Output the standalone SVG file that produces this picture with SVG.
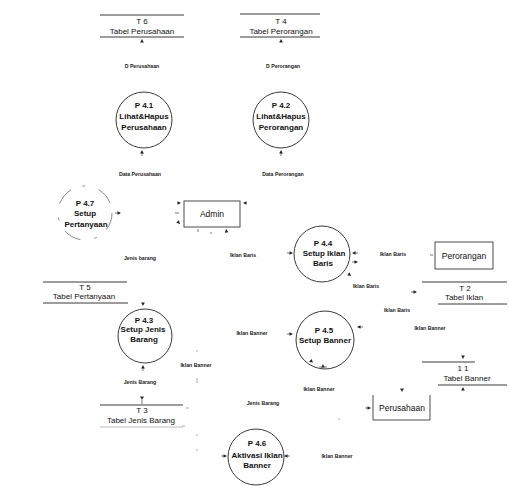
<svg xmlns="http://www.w3.org/2000/svg" xmlns:xlink="http://www.w3.org/1999/xlink" width="509" height="486" viewBox="0 0 509 486">
  <style>
    .bg { fill: #ffffff; }
    .proc { fill: none; stroke: #3a3a3a; stroke-width: 1; }
    .proc-faint { fill: none; stroke: #8a8a8a; stroke-width: 1; stroke-dasharray: 18 12 3 14; }
    .ent { fill: none; stroke: #4a4a4a; stroke-width: 1; }
    .store { stroke: #3a3a3a; stroke-width: 1; }
    .ptxt { font-family: "Liberation Sans", Arial, sans-serif; font-size: 8px; font-weight: bold; fill: #111; text-anchor: middle; }
    .stxt { font-family: "Liberation Sans", Arial, sans-serif; font-size: 8px; fill: #111; text-anchor: middle; }
    .etxt { font-family: "Liberation Sans", Arial, sans-serif; font-size: 8.5px; fill: #111; text-anchor: middle; }
    .lbl { font-family: "Liberation Sans", Arial, sans-serif; font-size: 5.2px; font-weight: bold; fill: #222; text-anchor: middle; }
    .head { fill: #222; }
    .tail { stroke: #555; stroke-width: 0.8; }
    .dot { stroke: #999; stroke-width: 0.8; }
  </style>
  <defs>
    <!-- small arrowhead, tip at origin, pointing along +x -->
    <g id="ah">
      <line class="tail" x1="-6" y1="0" x2="-3" y2="0"/>
      <path class="head" d="M0,0 L-3.5,-1.8 L-3.5,1.8 Z"/>
    </g>
    <g id="tip">
      <path class="head" d="M0,0 L-3.5,-1.8 L-3.5,1.8 Z"/>
    </g>
  </defs>

  <rect class="bg" x="0" y="0" width="509" height="486"/>

  <!-- data stores -->
  <g id="T6">
    <line class="store" x1="100" y1="15" x2="184" y2="15"/>
    <line class="store" x1="100" y1="37" x2="184" y2="37"/>
    <text class="stxt" x="142" y="24">T 6</text>
    <text class="stxt" x="142" y="33.5">Tabel Perusahaan</text>
  </g>
  <g id="T4">
    <line class="store" x1="240" y1="14" x2="320" y2="14"/>
    <line class="store" x1="240" y1="37" x2="320" y2="37"/>
    <text class="stxt" x="281" y="24">T 4</text>
    <text class="stxt" x="281" y="33.5">Tabel Perorangan</text>
  </g>
  <g id="T5">
    <line class="store" x1="43" y1="282" x2="127" y2="282"/>
    <line class="store" x1="43" y1="303" x2="128" y2="303"/>
    <text class="stxt" x="85" y="290">T 5</text>
    <text class="stxt" x="84" y="298.5">Tabel Pertanyaan</text>
  </g>
  <g id="T3">
    <line class="store" x1="100" y1="405" x2="183" y2="405"/>
    <line class="store" x1="100" y1="427" x2="183" y2="427" stroke-opacity="0.35"/>
    <text class="stxt" x="142" y="413">T 3</text>
    <text class="stxt" x="141" y="423">Tabel Jenis Barang</text>
  </g>
  <g id="T2">
    <line class="store" x1="422" y1="282" x2="507" y2="282"/>
    <line class="store" x1="438" y1="304" x2="507" y2="304"/>
    <text class="stxt" x="465" y="291">T 2</text>
    <text class="stxt" x="464" y="300">Tabel Iklan</text>
  </g>
  <g id="T1">
    <line class="store" x1="422" y1="362" x2="475" y2="362"/>
    <line class="store" x1="438" y1="385" x2="507" y2="385"/>
    <text class="stxt" x="463" y="371">1 1</text>
    <text class="stxt" x="467" y="380.5">Tabel Banner</text>
  </g>

  <!-- processes -->
  <g id="P4.1">
    <circle class="proc" cx="144" cy="120" r="28"/>
    <text class="ptxt" x="144" y="108">P 4.1</text>
    <text class="ptxt" x="144" y="119">Lihat&amp;Hapus</text>
    <text class="ptxt" x="144" y="130">Perusahaan</text>
  </g>
  <g id="P4.2">
    <circle class="proc" cx="281" cy="120" r="28"/>
    <text class="ptxt" x="281" y="108">P 4.2</text>
    <text class="ptxt" x="281" y="119">Lihat&amp;Hapus</text>
    <text class="ptxt" x="281" y="130">Perorangan</text>
  </g>
  <g id="P4.7">
    <circle class="proc-faint" cx="85" cy="213" r="27"/>
    <text class="ptxt" x="85" y="206">P 4.7</text>
    <text class="ptxt" x="85" y="216">Setup</text>
    <text class="ptxt" x="86" y="227">Pertanyaan</text>
  </g>
  <g id="P4.4">
    <circle class="proc" cx="322" cy="254" r="28"/>
    <text class="ptxt" x="323" y="246">P 4.4</text>
    <text class="ptxt" x="324" y="256">Setup Iklan</text>
    <text class="ptxt" x="323" y="265.5">Baris</text>
  </g>
  <g id="P4.3">
    <circle class="proc" cx="145" cy="336" r="27"/>
    <text class="ptxt" x="144" y="323">P 4.3</text>
    <text class="ptxt" x="143" y="332">Setup Jenis</text>
    <text class="ptxt" x="144" y="341.5">Barang</text>
  </g>
  <g id="P4.5">
    <circle class="proc" cx="325" cy="340" r="29"/>
    <text class="ptxt" x="324" y="333">P 4.5</text>
    <text class="ptxt" x="325" y="343">Setup Banner</text>
  </g>
  <g id="P4.6">
    <circle class="proc" cx="256" cy="457" r="28"/>
    <text class="ptxt" x="257" y="446">P 4.6</text>
    <text class="ptxt" x="257" y="457.5">Aktivasi Iklan</text>
    <text class="ptxt" x="257" y="468">Banner</text>
  </g>

  <!-- external entities -->
  <g id="Admin">
    <rect class="ent" x="184" y="201" width="56" height="26"/>
    <text class="etxt" x="212" y="217">Admin</text>
  </g>
  <g id="Perorangan">
    <rect class="ent" x="435" y="242" width="58" height="27"/>
    <text class="etxt" x="464" y="259">Perorangan</text>
  </g>
  <g id="Perusahaan">
    <path class="ent" d="M373,395 L373,420 L430,420 L430,395"/>
    <text class="etxt" x="402" y="411">Perusahaan</text>
  </g>

  <!-- data flows: arrowheads and labels -->
  <g id="connectors">
    <!-- stores T6 / T4 -->
    <use xlink:href="#tip" transform="translate(142,39) rotate(-90)"/>
    <use xlink:href="#tip" transform="translate(281,39) rotate(-90)"/>
    <text class="lbl" x="142" y="68">D Perusahaan</text>
    <text class="lbl" x="283" y="68">D Perorangan</text>

    <!-- P4.1 / P4.2 downward flows -->
    <use xlink:href="#ah" transform="translate(142,150) rotate(-90)"/>
    <use xlink:href="#ah" transform="translate(281,150) rotate(-90)"/>
    <text class="lbl" x="140" y="176">Data Perusahaan</text>
    <text class="lbl" x="283" y="176">Data Perorangan</text>

    <!-- P4.7 to Admin -->
    <use xlink:href="#ah" transform="translate(121,213)"/>
    <text class="lbl" x="140" y="260">Jenis barang</text>

    <!-- marks around Admin -->
    <use xlink:href="#tip" transform="translate(181,203)"/>
    <line class="tail" x1="175" y1="213" x2="179" y2="213"/>
    <use xlink:href="#tip" transform="translate(180,224) rotate(45)"/>
    <use xlink:href="#tip" transform="translate(243,203) rotate(180)"/>
    <line class="tail" x1="198" y1="229" x2="198" y2="232"/>
    <line class="tail" x1="211" y1="232" x2="211" y2="234"/>
    <use xlink:href="#tip" transform="translate(226,229) rotate(-100)"/>

    <!-- P4.4 flows -->
    <text class="lbl" x="243" y="257">Iklan Baris</text>
    <use xlink:href="#ah" transform="translate(293,253)"/>
    <use xlink:href="#ah" transform="translate(352,253) rotate(180)"/>
    <use xlink:href="#ah" transform="translate(358,262)"/>
    <use xlink:href="#tip" transform="translate(351,276) rotate(40)"/>
    <text class="lbl" x="393" y="256">Iklan Baris</text>
    <line class="tail" x1="430" y1="255" x2="433" y2="255"/>
    <text class="lbl" x="366" y="288">Iklan Baris</text>
    <use xlink:href="#ah" transform="translate(417,292)"/>
    <text class="lbl" x="397" y="312">Iklan Baris</text>
    <text class="lbl" x="430" y="330">Iklan Banner</text>

    <!-- P4.3 flows -->
    <use xlink:href="#tip" transform="translate(143,306) rotate(90)"/>
    <use xlink:href="#ah" transform="translate(143,365) rotate(-90)"/>
    <text class="lbl" x="140" y="384">Jenis Barang</text>
    <use xlink:href="#tip" transform="translate(142,400) rotate(90)"/>
    <line class="tail" x1="142" y1="400" x2="142" y2="404"/>

    <!-- P4.5 flows -->
    <text class="lbl" x="252" y="335">Iklan Banner</text>
    <use xlink:href="#ah" transform="translate(293,334)"/>
    <use xlink:href="#ah" transform="translate(357,327) rotate(180)"/>
    <use xlink:href="#tip" transform="translate(309,362) rotate(160)"/>
    <use xlink:href="#tip" transform="translate(323,364) rotate(-90)"/>
    <line class="tail" x1="319" y1="367" x2="327" y2="367"/>
    <text class="lbl" x="196" y="367">Iklan Banner</text>
    <line class="dot" x1="196" y1="351" x2="198" y2="351"/>
    <line class="dot" x1="197" y1="378" x2="197" y2="383"/>
    <text class="lbl" x="319" y="391">Iklan Banner</text>
    <text class="lbl" x="263" y="405">Jenis Barang</text>

    <!-- T1 -->
    <use xlink:href="#tip" transform="translate(463,359) rotate(90)"/>
    <use xlink:href="#tip" transform="translate(463,387) rotate(-90)"/>

    <!-- Perusahaan -->
    <use xlink:href="#tip" transform="translate(402,392) rotate(90)"/>
    <use xlink:href="#ah" transform="translate(371,408)"/>

    <!-- P4.6 flows -->
    <use xlink:href="#ah" transform="translate(227,456)"/>
    <use xlink:href="#ah" transform="translate(284,456) rotate(180)"/>
    <text class="lbl" x="337" y="458">Iklan Banner</text>
    <line class="dot" x1="186" y1="408" x2="189" y2="408"/>
    <line class="dot" x1="182" y1="426" x2="185" y2="426"/>
    <line class="dot" x1="197" y1="434" x2="197" y2="436"/>
    <line class="dot" x1="197" y1="449" x2="197" y2="451"/>
    <line class="dot" x1="338" y1="419" x2="340" y2="419"/>
  </g>
</svg>
